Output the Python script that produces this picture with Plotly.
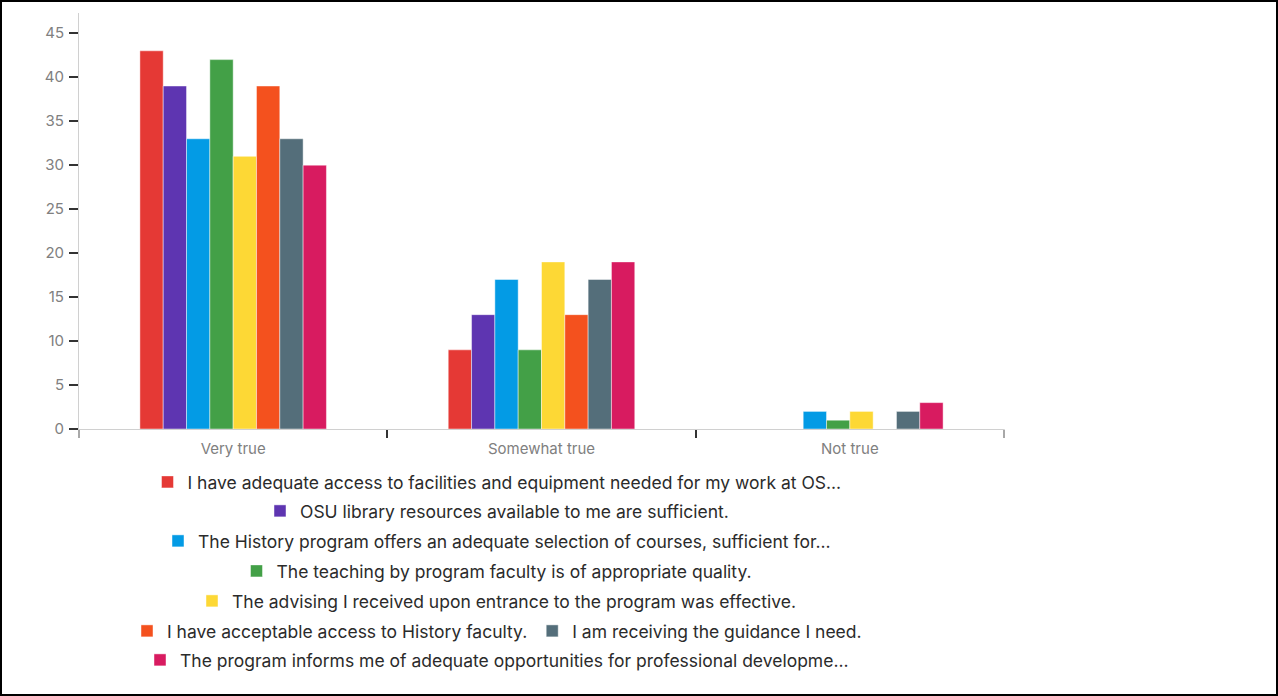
import plotly.graph_objects as go

categories = ["Very true", "Somewhat true", "Not true"]

series_names = [
    "I have adequate access to facilities and equipment needed for my work at OS...",
    "OSU library resources available to me are sufficient.",
    "The History program offers an adequate selection of courses, sufficient for...",
    "The teaching by program faculty is of appropriate quality.",
    "The advising I received upon entrance to the program was effective.",
    "I have acceptable access to History faculty.",
    "I am receiving the guidance I need.",
    "The program informs me of adequate opportunities for professional developme...",
]

facilities = [43, 9, 0]
library = [39, 13, 0]
courses = [33, 17, 2]
teaching = [42, 9, 1]
advising = [31, 19, 2]
faculty_access = [39, 13, 0]
guidance = [33, 17, 2]
professional = [30, 19, 3]

series_values = [facilities, library, courses, teaching, advising,
                 faculty_access, guidance, professional]

colors = ["#E53935", "#5E35B1", "#039BE5", "#43A047",
          "#FDD835", "#F4511E", "#546E7A", "#D81B60"]

# which legend row each series goes in
legend_rows = ["legend", "legend2", "legend3", "legend4",
               "legend5", "legend6", "legend6", "legend7"]

W, H = 1278, 696
ML, MR, MT, MB = 79, 274, 13, 267
PW = W - ML - MR
PH = H - MT - MB

FONT = "Inter"

fig = go.Figure()
for name, vals, col, lg in zip(series_names, series_values, colors, legend_rows):
    fig.add_trace(go.Bar(
        x=categories, y=vals, name=name,
        marker=dict(color=col, line=dict(color="rgba(255,255,255,0.45)", width=1)),
        legend=lg,
    ))

def py(pix):
    return (H - MB - pix) / PH

def px(pix):
    return (pix - ML) / PW

row_centers = [482, 511, 541, 571, 601, 631, 660]
legend_common = dict(
    orientation="h", xanchor="center", yanchor="middle", x=px(497),
    font=dict(family=FONT, size=17.5, color="#2b2b2b"),
    bgcolor="rgba(0,0,0,0)", itemclick=False, traceorder="normal",
)
legends = {}
for i, yc in enumerate(row_centers):
    key = "legend" if i == 0 else f"legend{i+1}"
    legends[key] = dict(legend_common, y=py(yc))

fig.update_layout(
    width=W, height=H,
    margin=dict(l=ML, r=MR, t=MT, b=MB),
    paper_bgcolor="white", plot_bgcolor="white",
    barmode="group", bargap=0.395, bargroupgap=0,
    font=dict(family=FONT),
    showlegend=True,
    **legends,
    xaxis=dict(
        showline=True, linecolor="#d0d0d0", linewidth=1,
        showgrid=False, zeroline=False,
        tickson="boundaries", ticks="outside", ticklen=8, tickwidth=1.5,
        tickcolor="#333333", ticklabelstandoff=6,
        tickfont=dict(family=FONT, size=15, color="#808080"),
    ),
    yaxis=dict(
        range=[0, 47.3], showline=True, linecolor="#d0d0d0", linewidth=1,
        showgrid=False, zeroline=False,
        tickmode="linear", tick0=0, dtick=5,
        ticks="outside", ticklen=9, tickwidth=1.5, tickcolor="#333333",
        ticklabelstandoff=2,
        tickfont=dict(family=FONT, size=15, color="#808080"),
    ),
    shapes=[
        # light-gray axis end extensions
        dict(type="line", xref="paper", yref="paper", x0=0, x1=0,
             y0=0, y1=-9 / PH, line=dict(color="#d0d0d0", width=1.5), layer="above"),
        dict(type="line", xref="paper", yref="paper", x0=1, x1=1,
             y0=0, y1=-9 / PH, line=dict(color="#d0d0d0", width=1.5), layer="above"),
        # outer frame
        dict(type="rect", xref="paper", yref="paper",
             x0=px(1), x1=px(W - 1), y0=py(H - 1), y1=py(1),
             line=dict(color="black", width=2), fillcolor="rgba(0,0,0,0)",
             layer="above"),
    ],
)

fig.write_html("out.html")
